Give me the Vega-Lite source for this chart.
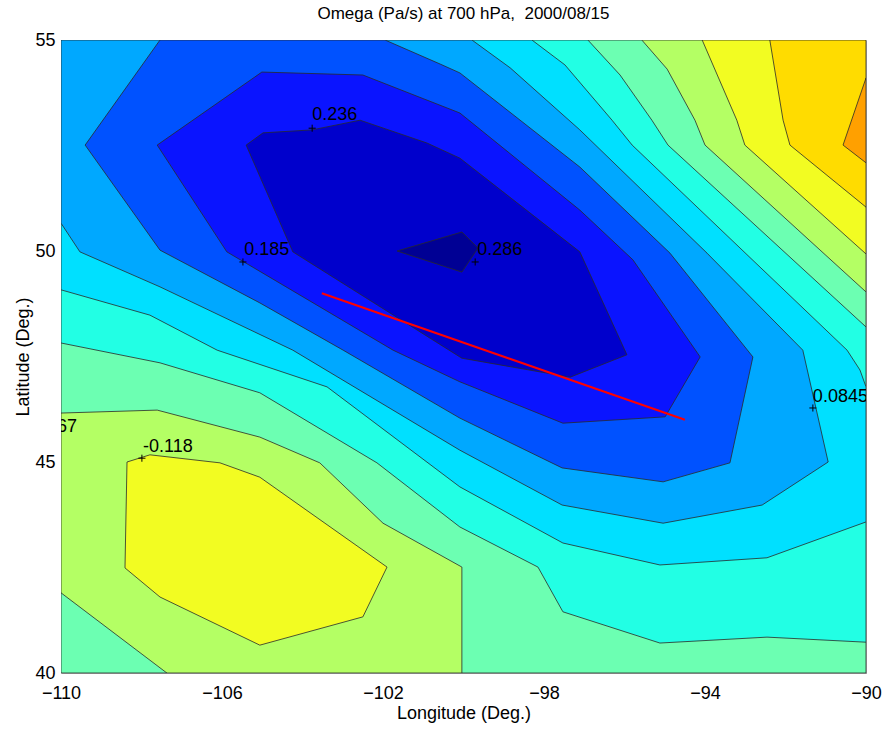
{
  "$schema": "https://vega.github.io/schema/vega-lite/v6.json",
  "width": 805,
  "height": 633,
  "autosize": {"type": "none"},
  "padding": {"left": 61, "top": 40, "right": 17, "bottom": 57},
  "background": "white",
  "title": {"text": "Omega (Pa/s) at 700 hPa,\u00a0 2000/08/15", "fontSize": 17, "fontWeight": "normal", "font": "Liberation Sans", "color": "black", "offset": 8, "anchor": "middle"},
  "config": {"view": {"stroke": "#7f7f7f", "strokeWidth": 1}},
  "datasets": {
    "polys": [
      {"p": "P8", "i": 0, "lon": -110, "lat": 55}, {"p": "P8", "i": 1, "lon": -90, "lat": 55}, {"p": "P8", "i": 2, "lon": -90, "lat": 40}, {"p": "P8", "i": 3, "lon": -110, "lat": 40},
      {"p": "P7", "i": 0, "lon": -110, "lat": 55}, {"p": "P7", "i": 1, "lon": -95.57, "lat": 55}, {"p": "P7", "i": 2, "lon": -94.94, "lat": 54.31}, {"p": "P7", "i": 3, "lon": -94.25, "lat": 53.10}, {"p": "P7", "i": 4, "lon": -94.00, "lat": 52.51}, {"p": "P7", "i": 5, "lon": -90, "lat": 49.03}, {"p": "P7", "i": 6, "lon": -90, "lat": 40}, {"p": "P7", "i": 7, "lon": -100.04, "lat": 40}, {"p": "P7", "i": 8, "lon": -100.04, "lat": 42.51}, {"p": "P7", "i": 9, "lon": -102.00, "lat": 43.55}, {"p": "P7", "i": 10, "lon": -103.57, "lat": 44.98}, {"p": "P7", "i": 11, "lon": -105.06, "lat": 45.59}, {"p": "P7", "i": 12, "lon": -107.61, "lat": 46.23}, {"p": "P7", "i": 13, "lon": -110, "lat": 46.16},
      {"p": "P7b", "i": 0, "lon": -110, "lat": 41.90}, {"p": "P7b", "i": 1, "lon": -107.37, "lat": 40}, {"p": "P7b", "i": 2, "lon": -110, "lat": 40},
      {"p": "P6", "i": 0, "lon": -110, "lat": 55}, {"p": "P6", "i": 1, "lon": -96.91, "lat": 55}, {"p": "P6", "i": 2, "lon": -96.11, "lat": 54.17}, {"p": "P6", "i": 3, "lon": -95.32, "lat": 53.10}, {"p": "P6", "i": 4, "lon": -94.92, "lat": 52.51}, {"p": "P6", "i": 5, "lon": -90, "lat": 48.20}, {"p": "P6", "i": 6, "lon": -90, "lat": 40.73}, {"p": "P6", "i": 7, "lon": -92.46, "lat": 40.85}, {"p": "P6", "i": 8, "lon": -95.12, "lat": 40.71}, {"p": "P6", "i": 9, "lon": -97.53, "lat": 41.45}, {"p": "P6", "i": 10, "lon": -98.15, "lat": 42.51}, {"p": "P6", "i": 11, "lon": -100.09, "lat": 43.46}, {"p": "P6", "i": 12, "lon": -102.15, "lat": 44.98}, {"p": "P6", "i": 13, "lon": -105.06, "lat": 46.64}, {"p": "P6", "i": 14, "lon": -107.54, "lat": 47.35}, {"p": "P6", "i": 15, "lon": -110, "lat": 47.82},
      {"p": "P5", "i": 0, "lon": -110, "lat": 55}, {"p": "P5", "i": 1, "lon": -98.30, "lat": 55}, {"p": "P5", "i": 2, "lon": -97.48, "lat": 54.41}, {"p": "P5", "i": 3, "lon": -96.31, "lat": 53.10}, {"p": "P5", "i": 4, "lon": -95.81, "lat": 52.51}, {"p": "P5", "i": 5, "lon": -90.47, "lat": 47.65}, {"p": "P5", "i": 6, "lon": -90.15, "lat": 47.18}, {"p": "P5", "i": 7, "lon": -90, "lat": 46.78}, {"p": "P5", "i": 8, "lon": -90, "lat": 43.58}, {"p": "P5", "i": 9, "lon": -92.46, "lat": 42.73}, {"p": "P5", "i": 10, "lon": -95.12, "lat": 42.56}, {"p": "P5", "i": 11, "lon": -97.53, "lat": 43.08}, {"p": "P5", "i": 12, "lon": -100.09, "lat": 44.41}, {"p": "P5", "i": 13, "lon": -103.39, "lat": 46.78}, {"p": "P5", "i": 14, "lon": -106.12, "lat": 47.65}, {"p": "P5", "i": 15, "lon": -107.79, "lat": 48.48}, {"p": "P5", "i": 16, "lon": -110, "lat": 49.08},
      {"p": "P4", "i": 0, "lon": -110, "lat": 55}, {"p": "P4", "i": 1, "lon": -99.79, "lat": 55}, {"p": "P4", "i": 2, "lon": -98.84, "lat": 54.34}, {"p": "P4", "i": 3, "lon": -97.11, "lat": 52.87}, {"p": "P4", "i": 4, "lon": -93.95, "lat": 49.95}, {"p": "P4", "i": 5, "lon": -91.57, "lat": 47.65}, {"p": "P4", "i": 6, "lon": -90.94, "lat": 45.00}, {"p": "P4", "i": 7, "lon": -92.58, "lat": 43.98}, {"p": "P4", "i": 8, "lon": -95.04, "lat": 43.55}, {"p": "P4", "i": 9, "lon": -97.55, "lat": 43.98}, {"p": "P4", "i": 10, "lon": -100.09, "lat": 45.28}, {"p": "P4", "i": 11, "lon": -104.24, "lat": 47.65}, {"p": "P4", "i": 12, "lon": -107.54, "lat": 49.15}, {"p": "P4", "i": 13, "lon": -109.53, "lat": 49.98}, {"p": "P4", "i": 14, "lon": -110, "lat": 50.66},
      {"p": "P3", "i": 0, "lon": -107.54, "lat": 55}, {"p": "P3", "i": 1, "lon": -101.95, "lat": 55}, {"p": "P3", "i": 2, "lon": -100.58, "lat": 54.43}, {"p": "P3", "i": 3, "lon": -100.09, "lat": 54.22}, {"p": "P3", "i": 4, "lon": -97.11, "lat": 51.99}, {"p": "P3", "i": 5, "lon": -94.87, "lat": 49.95}, {"p": "P3", "i": 6, "lon": -92.81, "lat": 47.49}, {"p": "P3", "i": 7, "lon": -93.38, "lat": 44.98}, {"p": "P3", "i": 8, "lon": -95.04, "lat": 44.53}, {"p": "P3", "i": 9, "lon": -97.55, "lat": 44.86}, {"p": "P3", "i": 10, "lon": -100.09, "lat": 46.04}, {"p": "P3", "i": 11, "lon": -102.99, "lat": 47.65}, {"p": "P3", "i": 12, "lon": -105.06, "lat": 48.77}, {"p": "P3", "i": 13, "lon": -107.54, "lat": 50.02}, {"p": "P3", "i": 14, "lon": -109.40, "lat": 52.51},
      {"p": "P2", "i": 0, "lon": -107.61, "lat": 52.51}, {"p": "P2", "i": 1, "lon": -105.01, "lat": 54.24}, {"p": "P2", "i": 2, "lon": -102.50, "lat": 54.17}, {"p": "P2", "i": 3, "lon": -100.09, "lat": 53.27}, {"p": "P2", "i": 4, "lon": -97.11, "lat": 50.97}, {"p": "P2", "i": 5, "lon": -95.79, "lat": 49.79}, {"p": "P2", "i": 6, "lon": -94.12, "lat": 47.49}, {"p": "P2", "i": 7, "lon": -94.99, "lat": 46.07}, {"p": "P2", "i": 8, "lon": -97.53, "lat": 45.92}, {"p": "P2", "i": 9, "lon": -100.09, "lat": 46.90}, {"p": "P2", "i": 10, "lon": -101.75, "lat": 47.65}, {"p": "P2", "i": 11, "lon": -105.88, "lat": 49.98},
      {"p": "P1", "i": 0, "lon": -105.40, "lat": 52.51}, {"p": "P1", "i": 1, "lon": -104.98, "lat": 52.80}, {"p": "P1", "i": 2, "lon": -103.76, "lat": 52.87}, {"p": "P1", "i": 3, "lon": -102.57, "lat": 53.10}, {"p": "P1", "i": 4, "lon": -100.91, "lat": 52.56}, {"p": "P1", "i": 5, "lon": -100.09, "lat": 52.20}, {"p": "P1", "i": 6, "lon": -97.11, "lat": 49.98}, {"p": "P1", "i": 7, "lon": -95.94, "lat": 47.54}, {"p": "P1", "i": 8, "lon": -97.35, "lat": 47.01}, {"p": "P1", "i": 9, "lon": -100.04, "lat": 47.46}, {"p": "P1", "i": 10, "lon": -104.24, "lat": 49.98},
      {"p": "P0", "i": 0, "lon": -101.65, "lat": 50.00}, {"p": "P0", "i": 1, "lon": -100.04, "lat": 50.45}, {"p": "P0", "i": 2, "lon": -99.64, "lat": 50.07}, {"p": "P0", "i": 3, "lon": -100.04, "lat": 49.50},
      {"p": "P9a", "i": 0, "lon": -108.36, "lat": 45.00}, {"p": "P9a", "i": 1, "lon": -107.79, "lat": 45.17}, {"p": "P9a", "i": 2, "lon": -106.05, "lat": 44.98}, {"p": "P9a", "i": 3, "lon": -105.06, "lat": 44.64}, {"p": "P9a", "i": 4, "lon": -101.90, "lat": 42.51}, {"p": "P9a", "i": 5, "lon": -102.50, "lat": 41.33}, {"p": "P9a", "i": 6, "lon": -105.06, "lat": 40.66}, {"p": "P9a", "i": 7, "lon": -107.54, "lat": 41.80}, {"p": "P9a", "i": 8, "lon": -108.41, "lat": 42.49},
      {"p": "P9b", "i": 0, "lon": -94.07, "lat": 55}, {"p": "P9b", "i": 1, "lon": -93.21, "lat": 53.10}, {"p": "P9b", "i": 2, "lon": -93.01, "lat": 52.51}, {"p": "P9b", "i": 3, "lon": -90, "lat": 49.93}, {"p": "P9b", "i": 4, "lon": -90, "lat": 55},
      {"p": "P10", "i": 0, "lon": -92.39, "lat": 55}, {"p": "P10", "i": 1, "lon": -92.06, "lat": 53.10}, {"p": "P10", "i": 2, "lon": -91.89, "lat": 52.51}, {"p": "P10", "i": 3, "lon": -90, "lat": 51.04}, {"p": "P10", "i": 4, "lon": -90, "lat": 55},
      {"p": "P11", "i": 0, "lon": -90, "lat": 54.10}, {"p": "P11", "i": 1, "lon": -90.57, "lat": 52.51}, {"p": "P11", "i": 2, "lon": -90, "lat": 52.09}
    ],
    "labels": [
      {"t": "0.236", "lon": -103.76, "lat": 53.22},
      {"t": "0.185", "lon": -105.45, "lat": 50.02},
      {"t": "0.286", "lon": -99.66, "lat": 50.02},
      {"t": "0.0845", "lon": -91.32, "lat": 46.54},
      {"t": "-0.118", "lon": -107.96, "lat": 45.36},
      {"t": "-0.067", "lon": -110.87, "lat": 45.83}
    ],
    "plus": [
      {"lon": -103.76, "lat": 52.91},
      {"lon": -105.48, "lat": 49.74},
      {"lon": -99.71, "lat": 49.74},
      {"lon": -91.32, "lat": 46.28},
      {"lon": -107.99, "lat": 45.09}
    ],
    "red": [
      {"i": 0, "lon": -103.52, "lat": 49.0},
      {"i": 1, "lon": -94.5, "lat": 46.0}
    ]
  },
  "encoding": {
    "x": {"field": "lon", "type": "quantitative", "scale": {"domain": [-110, -90], "nice": false, "zero": false},
      "axis": {"values": [-110, -106, -102, -98, -94, -90], "title": "Longitude (Deg.)", "grid": false, "domain": false, "ticks": false, "tickSize": 0, "labelPadding": 11, "labelFlush": false, "labelFontSize": 18, "labelFont": "Liberation Sans", "labelColor": "black", "titleFontSize": 18, "titleFont": "Liberation Sans", "titleFontWeight": "normal", "titleColor": "black", "titleY": 31, "titleBaseline": "top"}},
    "y": {"field": "lat", "type": "quantitative", "scale": {"domain": [40, 55], "nice": false, "zero": false},
      "axis": {"values": [40, 45, 50, 55], "title": "Latitude (Deg.)", "grid": false, "domain": false, "ticks": false, "tickSize": 0, "labelPadding": 6, "labelFlush": false, "labelFontSize": 18, "labelFont": "Liberation Sans", "labelColor": "black", "titleFontSize": 18, "titleFont": "Liberation Sans", "titleFontWeight": "normal", "titleColor": "black", "titleAngle": 270, "titleX": -29, "titleY": 316.5, "titleBaseline": "bottom", "titleAlign": "center"}}
  },
  "layer": [
    {"data": {"name": "polys"}, "transform": [{"filter": "datum.p == 'P8'"}], "mark": {"type": "line", "filled": true, "interpolate": "linear-closed", "fill": "#B4FF64", "stroke": "#2a2a2a", "strokeWidth": 0.8, "clip": true}, "encoding": {"order": {"field": "i", "type": "quantitative"}}},
    {"data": {"name": "polys"}, "transform": [{"filter": "datum.p == 'P7'"}], "mark": {"type": "line", "filled": true, "interpolate": "linear-closed", "fill": "#6CFFB2", "stroke": "#2a2a2a", "strokeWidth": 0.8, "clip": true}, "encoding": {"order": {"field": "i", "type": "quantitative"}}},
    {"data": {"name": "polys"}, "transform": [{"filter": "datum.p == 'P7b'"}], "mark": {"type": "line", "filled": true, "interpolate": "linear-closed", "fill": "#6CFFB2", "stroke": "#2a2a2a", "strokeWidth": 0.8, "clip": true}, "encoding": {"order": {"field": "i", "type": "quantitative"}}},
    {"data": {"name": "polys"}, "transform": [{"filter": "datum.p == 'P6'"}], "mark": {"type": "line", "filled": true, "interpolate": "linear-closed", "fill": "#22FFE4", "stroke": "#2a2a2a", "strokeWidth": 0.8, "clip": true}, "encoding": {"order": {"field": "i", "type": "quantitative"}}},
    {"data": {"name": "polys"}, "transform": [{"filter": "datum.p == 'P5'"}], "mark": {"type": "line", "filled": true, "interpolate": "linear-closed", "fill": "#00E0FF", "stroke": "#2a2a2a", "strokeWidth": 0.8, "clip": true}, "encoding": {"order": {"field": "i", "type": "quantitative"}}},
    {"data": {"name": "polys"}, "transform": [{"filter": "datum.p == 'P4'"}], "mark": {"type": "line", "filled": true, "interpolate": "linear-closed", "fill": "#00A8FF", "stroke": "#2a2a2a", "strokeWidth": 0.8, "clip": true}, "encoding": {"order": {"field": "i", "type": "quantitative"}}},
    {"data": {"name": "polys"}, "transform": [{"filter": "datum.p == 'P3'"}], "mark": {"type": "line", "filled": true, "interpolate": "linear-closed", "fill": "#0052FF", "stroke": "#2a2a2a", "strokeWidth": 0.8, "clip": true}, "encoding": {"order": {"field": "i", "type": "quantitative"}}},
    {"data": {"name": "polys"}, "transform": [{"filter": "datum.p == 'P2'"}], "mark": {"type": "line", "filled": true, "interpolate": "linear-closed", "fill": "#0A14FF", "stroke": "#2a2a2a", "strokeWidth": 0.8, "clip": true}, "encoding": {"order": {"field": "i", "type": "quantitative"}}},
    {"data": {"name": "polys"}, "transform": [{"filter": "datum.p == 'P1'"}], "mark": {"type": "line", "filled": true, "interpolate": "linear-closed", "fill": "#0000CC", "stroke": "#2a2a2a", "strokeWidth": 0.8, "clip": true}, "encoding": {"order": {"field": "i", "type": "quantitative"}}},
    {"data": {"name": "polys"}, "transform": [{"filter": "datum.p == 'P0'"}], "mark": {"type": "line", "filled": true, "interpolate": "linear-closed", "fill": "#000094", "stroke": "#2a2a2a", "strokeWidth": 0.8, "clip": true}, "encoding": {"order": {"field": "i", "type": "quantitative"}}},
    {"data": {"name": "polys"}, "transform": [{"filter": "datum.p == 'P9a'"}], "mark": {"type": "line", "filled": true, "interpolate": "linear-closed", "fill": "#F2FC22", "stroke": "#2a2a2a", "strokeWidth": 0.8, "clip": true}, "encoding": {"order": {"field": "i", "type": "quantitative"}}},
    {"data": {"name": "polys"}, "transform": [{"filter": "datum.p == 'P9b'"}], "mark": {"type": "line", "filled": true, "interpolate": "linear-closed", "fill": "#F2FC22", "stroke": "#2a2a2a", "strokeWidth": 0.8, "clip": true}, "encoding": {"order": {"field": "i", "type": "quantitative"}}},
    {"data": {"name": "polys"}, "transform": [{"filter": "datum.p == 'P10'"}], "mark": {"type": "line", "filled": true, "interpolate": "linear-closed", "fill": "#FFDC00", "stroke": "#2a2a2a", "strokeWidth": 0.8, "clip": true}, "encoding": {"order": {"field": "i", "type": "quantitative"}}},
    {"data": {"name": "polys"}, "transform": [{"filter": "datum.p == 'P11'"}], "mark": {"type": "line", "filled": true, "interpolate": "linear-closed", "fill": "#FFA000", "stroke": "#2a2a2a", "strokeWidth": 0.8, "clip": true}, "encoding": {"order": {"field": "i", "type": "quantitative"}}},
    {"data": {"name": "red"}, "mark": {"type": "line", "color": "#FF0000", "strokeWidth": 2}, "encoding": {"order": {"field": "i", "type": "quantitative"}}},
    {"data": {"name": "plus"}, "mark": {"type": "point", "shape": "M-1,0L1,0M0,-1L0,1", "filled": false, "stroke": "black", "strokeWidth": 1, "size": 50, "opacity": 1}},
    {"data": {"name": "labels"}, "mark": {"type": "text", "align": "left", "baseline": "middle", "fontSize": 18, "font": "Liberation Sans", "color": "black", "clip": true}, "encoding": {"text": {"field": "t", "type": "nominal"}}}
  ]
}
